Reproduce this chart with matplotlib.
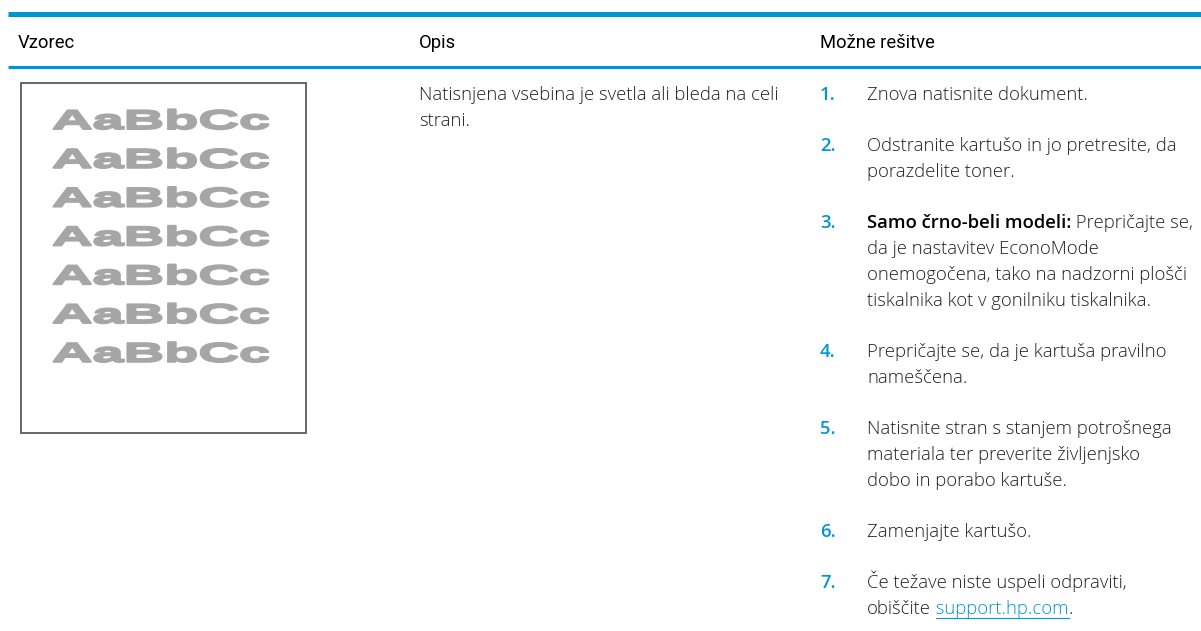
import matplotlib
matplotlib.use("Agg")
import matplotlib.pyplot as plt
from matplotlib.patches import Rectangle
from matplotlib.patheffects import AbstractPathEffect
from matplotlib.transforms import Affine2D

HP_BLUE = "#0096d6"
TEXT_COL = "#231f20"
BODY_FONT = "Open Sans"
HEAD_FONT = "Roboto"
FS = 13.3

# table content
headers = ["Vzorec", "Opis", "Možne rešitve"]
header_x = [18, 419, 820]
sample_lines = ["AaBbCc"] * 7
description = ["Natisnjena vsebina je svetla ali bleda na celi", "strani."]
solutions = [
    ["Znova natisnite dokument."],
    ["Odstranite kartušo in jo pretresite, da", "porazdelite toner."],
    ["Prepričajte se,", "da je nastavitev EconoMode",
     "onemogočena, tako na nadzorni plošči", "tiskalnika kot v gonilniku tiskalnika."],
    ["Prepričajte se, da je kartuša pravilno", "nameščena."],
    ["Natisnite stran s stanjem potrošnega", "materiala ter preverite življenjsko",
     "dobo in porabo kartuše."],
    ["Zamenjajte kartušo."],
    ["Če težave niste uspeli odpraviti,", "obiščite"],
]
bold_lead = {2: "Samo črno-beli modeli:"}
link_text = "support.hp.com"


class Stretch(AbstractPathEffect):
    # widen glyphs horizontally (anchored at text start) and thicken them a bit
    def __init__(self, sx, lw=0.0):
        super().__init__()
        self.sx = sx
        self.lw = lw

    def draw_path(self, renderer, gc, tpath, affine, rgbFace=None):
        gc0 = renderer.new_gc()
        gc0.copy_properties(gc)
        gc0.set_linewidth(self.lw)
        gc0.set_foreground(rgbFace)
        renderer.draw_path(gc0, tpath, Affine2D().scale(self.sx, 1) + affine, rgbFace)
        gc0.restore()


fig = plt.figure(figsize=(12.01, 6.31), dpi=100)
ax = fig.add_axes([0, 0, 1, 1])
ax.set_xlim(0, 1201)
ax.set_ylim(631, 0)
ax.axis("off")

# header rules
ax.plot([8, 1201], [13.5, 13.5], color=HP_BLUE, lw=3.6, solid_capstyle="butt")
ax.plot([8, 1201], [66.5, 66.5], color=HP_BLUE, lw=2.3, solid_capstyle="butt")
for h, x in zip(headers, header_x):
    ax.text(x, 47.5, h, fontsize=13.2, family=HEAD_FONT, color="black", va="baseline")

# sample page
ax.add_patch(Rectangle((21, 83), 285, 350, fill=False, ec="#5a5a5a", lw=1.3))
for i, s in enumerate(sample_lines):
    ax.text(52, 129 + i * 38.8, s, fontsize=19.5, family="Liberation Sans", weight="bold",
            color="#a6a6a6", va="baseline", path_effects=[Stretch(2.07, lw=1.4)])

body = dict(fontsize=FS, family=BODY_FONT, weight="light", color=TEXT_COL)
line_h = 26
gap = 25

for i, s in enumerate(description):
    ax.text(419, 100 + i * line_h, s, va="baseline", **body)

y = 100
last = None
for n, lines in enumerate(solutions):
    ax.text(820, y, f"{n + 1}.", fontsize=FS, family=BODY_FONT, weight="semibold",
            color=HP_BLUE, va="baseline")
    for j, s in enumerate(lines):
        yy = y + j * line_h
        if j == 0 and n in bold_lead:
            b = ax.text(867, yy, bold_lead[n], fontsize=FS, family=BODY_FONT,
                        weight="semibold", color="black", va="baseline")
            ax.annotate(" " + s, xy=(1, 0), xycoords=b, va="bottom", **body)
        else:
            last = ax.text(867, yy, s, va="baseline", **body)
    y += len(lines) * line_h + gap

# link on the last line
link = ax.annotate(" " + link_text, xy=(1, 0), xycoords=last, va="bottom",
                   fontsize=FS, family=BODY_FONT, weight="light", color=HP_BLUE)
ax.annotate(".", xy=(1, 0), xycoords=link, va="bottom", **body)

fig.canvas.draw()
inv = ax.transData.inverted()
bb = link.get_window_extent()
sp = 4.5
(x0, _), (x1, _) = inv.transform([(bb.x0, bb.y0), (bb.x1, bb.y1)])
base_y = last.get_position()[1]
ax.plot([x0 + sp, x1], [base_y + 3.5, base_y + 3.5], color=HP_BLUE, lw=0.8)

fig.savefig("out.png", dpi=100, facecolor="white")
